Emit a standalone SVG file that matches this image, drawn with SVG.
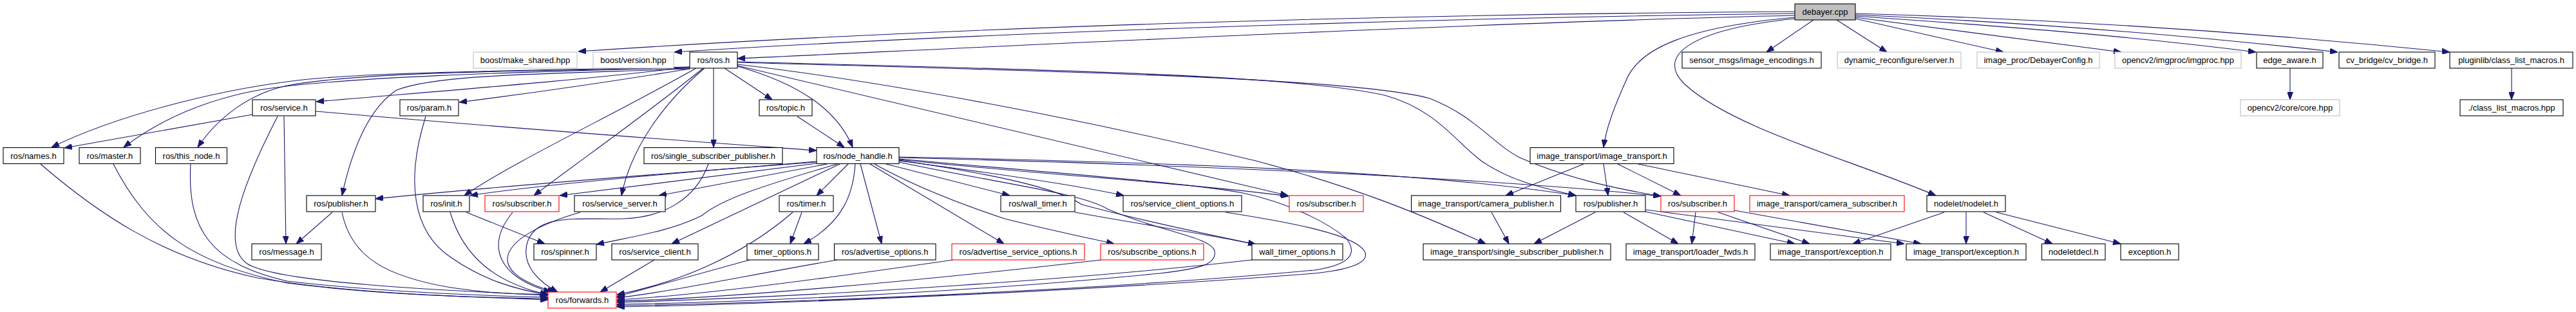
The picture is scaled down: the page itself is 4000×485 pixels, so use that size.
<svg xmlns="http://www.w3.org/2000/svg" width="4000" height="485" viewBox="0 0 4000 485">
<style>
.e path{fill:none;stroke:#191970;stroke-width:1.1;marker-end:url(#a)}
.n rect{fill:#fff;stroke:#000;stroke-width:1.1}
.n.g rect{stroke:#bfbfbf}
.n.r rect{stroke:#ff0000}
.n.f rect{fill:#bfbfbf}
.n text{font-family:"Liberation Sans",Arial,sans-serif;font-size:13px;text-anchor:middle;fill:#000}
</style>
<defs>
<marker id="a" viewBox="0 0 12 9" refX="12" refY="4.5" markerWidth="12" markerHeight="9" orient="auto" markerUnits="userSpaceOnUse"><path d="M0,0L12,4.5L0,9z" fill="#191970" stroke="#191970"/></marker>
</defs>
<rect width="4000" height="485" fill="#fff"/>
<g class="e" id="edges">
<path d="M2787,18 C2200,22 1500,40 898,80"/>
<path d="M2787,21 C2200,28 1500,52 1047,81"/>
<path d="M2787,24 C2300,35 1600,70 1145,91"/>
<path d="M2816,31 L2743,81"/>
<path d="M2852,31 L2930,81"/>
<path d="M2881,29 L3111,81"/>
<path d="M2881,27 L3294,81"/>
<path d="M2881,25 C3100,40 3300,55 3503,81"/>
<path d="M2881,23 C3150,35 3400,55 3630,81"/>
<path d="M2881,21 C3200,30 3500,50 3804,81"/>
<path d="M2787,27 C2620,42 2545,75 2525,125 C2505,170 2494,200 2490,229"/>
<path d="M2787,29 C2630,45 2570,85 2615,130 C2690,200 2880,250 3006,304"/>
<path d="M1071,104 C800,110 550,112 446,127 C330,142 180,180 80,229"/>
<path d="M1071,105 C800,112 520,120 402,140 C320,155 250,185 192,229"/>
<path d="M1071,106 C800,110 560,112 446,133 C390,145 340,180 307,229"/>
<path d="M1071,107 C850,115 680,115 616,140 C570,170 545,240 531,304"/>
<path d="M1071,104 C900,125 700,140 491,158"/>
<path d="M1071,107 C900,135 800,148 713,159"/>
<path d="M1081,106 C950,180 800,250 721,304"/>
<path d="M1092,106 C1000,180 900,250 829,304"/>
<path d="M1094,106 C1030,160 980,230 965,304"/>
<path d="M1108,106 L1108,229"/>
<path d="M1125,106 L1199,155"/>
<path d="M1145,103 C1240,130 1300,170 1324,229"/>
<path d="M1145,102 L2000,304"/>
<path d="M1145,100 C1400,130 1700,190 1950,250 C2100,290 2200,330 2307,379"/>
<path d="M1145,96 C1600,108 2000,115 2150,148 C2230,170 2260,220 2300,250 C2350,285 2410,295 2447,304"/>
<path d="M1145,97 C1600,110 2100,120 2220,153 C2290,180 2320,225 2360,245 C2440,280 2520,295 2579,305"/>
<path d="M392,178 L100,230"/>
<path d="M441,181 L444,379"/>
<path d="M490,173 C800,200 1050,218 1268,234"/>
<path d="M431,181 C380,280 340,380 384,410 C430,440 700,452 851,459"/>
<path d="M661,181 C630,280 640,360 700,400 C750,435 800,450 851,458"/>
<path d="M1238,181 L1311,229"/>
<path d="M63,255 C150,330 250,400 400,432 C550,458 750,462 851,466"/>
<path d="M176,255 C230,360 300,410 446,440 C600,460 760,463 851,464"/>
<path d="M296,255 C290,360 330,410 446,437 C600,455 760,460 851,462"/>
<path d="M1100,255 C1080,310 1030,338 968,340 C900,342 830,330 818,380 C810,415 840,440 866,454"/>
<path d="M1268,251 C1100,265 850,285 730,304"/>
<path d="M1268,252 C1000,272 750,292 583,309"/>
<path d="M1268,254 L869,304"/>
<path d="M1284,255 L1023,304"/>
<path d="M1300,255 C1180,290 1120,310 1090,335 C1040,360 980,368 926,380"/>
<path d="M1304,255 L1043,379"/>
<path d="M1317,255 L1268,304"/>
<path d="M1328,255 C1325,300 1310,345 1248,379"/>
<path d="M1336,255 L1369,379"/>
<path d="M1351,255 L1559,379"/>
<path d="M1358,255 C1420,290 1500,320 1560,340 C1640,360 1690,370 1730,379"/>
<path d="M1376,255 L1568,304"/>
<path d="M1396,250 C1550,270 1680,290 1745,304"/>
<path d="M1396,249 C1550,272 1640,292 1680,318 C1780,345 1880,365 1950,380"/>
<path d="M1396,248 C1600,270 1850,285 2001,305"/>
<path d="M1396,244 C1800,252 2200,265 2447,304"/>
<path d="M1396,245 C1800,255 2300,275 2579,305"/>
<path d="M1396,252 C1550,285 1680,300 1720,325 C1800,360 1880,368 1886,390 C1890,412 1860,418 1800,425 C1500,455 1150,470 958,473"/>
<path d="M1396,247 C1650,270 1850,285 1930,300 C2000,315 2060,345 2090,370 C2110,395 2095,412 2040,420 C1700,452 1200,472 958,475"/>
<path d="M1903,330 C2000,345 2110,365 2120,393 C2125,410 2090,420 2040,425 C1700,452 1200,473 958,477"/>
<path d="M516,330 L460,379"/>
<path d="M531,330 C545,400 600,430 700,447 C760,456 810,458 851,457"/>
<path d="M724,330 L846,379"/>
<path d="M699,330 C720,400 770,440 851,458"/>
<path d="M796,330 C755,380 770,430 856,454"/>
<path d="M901,330 C780,365 740,420 862,454"/>
<path d="M1016,404 L932,454"/>
<path d="M1231,330 C1150,400 1050,440 958,458"/>
<path d="M1245,330 L1227,379"/>
<path d="M1164,404 L958,461"/>
<path d="M1300,404 C1150,430 1050,452 958,463"/>
<path d="M1480,404 C1300,430 1100,458 958,466"/>
<path d="M1710,404 C1400,440 1100,465 958,468"/>
<path d="M1944,404 C1700,432 1300,460 958,470"/>
<path d="M1669,330 C1780,350 1880,365 1950,380"/>
<path d="M2459,255 L2338,304"/>
<path d="M2490,255 L2497,304"/>
<path d="M2512,255 L2610,304"/>
<path d="M2544,255 L2779,304"/>
<path d="M2316,330 L2343,379"/>
<path d="M2477,330 L2382,379"/>
<path d="M2521,330 L2606,379"/>
<path d="M2555,329 L2787,379"/>
<path d="M2555,326 L2957,379"/>
<path d="M2633,330 L2627,379"/>
<path d="M2668,330 L2810,379"/>
<path d="M2693,327 L2983,379"/>
<path d="M3019,330 L2877,379"/>
<path d="M3053,330 L3053,379"/>
<path d="M3080,330 L3187,379"/>
<path d="M3100,330 L3293,379"/>
<path d="M3556,106 L3556,155"/>
<path d="M3900,106 L3900,155"/>
</g>
<g class="n f" id="n1"><rect x="2787" y="6" width="94" height="25"/><text x="2834" y="23">debayer.cpp</text></g>
<g class="n g" id="n2"><rect x="735" y="81" width="161" height="25"/><text x="815.5" y="98">boost/make_shared.hpp</text></g>
<g class="n g" id="n3"><rect x="921" y="81" width="125" height="25"/><text x="983.5" y="98">boost/version.hpp</text></g>
<g class="n" id="n4"><rect x="1071" y="81" width="74" height="25"/><text x="1108" y="98">ros/ros.h</text></g>
<g class="n" id="n5"><rect x="2612" y="81" width="216" height="25"/><text x="2720" y="98">sensor_msgs/image_encodings.h</text></g>
<g class="n g" id="n6"><rect x="2853" y="81" width="192" height="25"/><text x="2949" y="98">dynamic_reconfigure/server.h</text></g>
<g class="n g" id="n7"><rect x="3070" y="81" width="190" height="25"/><text x="3165" y="98">image_proc/DebayerConfig.h</text></g>
<g class="n g" id="n8"><rect x="3284" y="81" width="196" height="25"/><text x="3382" y="98">opencv2/imgproc/imgproc.hpp</text></g>
<g class="n" id="n9"><rect x="3504" y="81" width="103" height="25"/><text x="3555.5" y="98">edge_aware.h</text></g>
<g class="n" id="n10"><rect x="3632" y="81" width="149" height="25"/><text x="3706.5" y="98">cv_bridge/cv_bridge.h</text></g>
<g class="n" id="n11"><rect x="3804" y="81" width="191" height="25"/><text x="3899.5" y="98">pluginlib/class_list_macros.h</text></g>
<g class="n" id="n12"><rect x="392" y="155" width="98" height="25"/><text x="441" y="172">ros/service.h</text></g>
<g class="n" id="n13"><rect x="621" y="155" width="91" height="25"/><text x="666.5" y="172">ros/param.h</text></g>
<g class="n" id="n14"><rect x="1179" y="155" width="82" height="25"/><text x="1220" y="172">ros/topic.h</text></g>
<g class="n g" id="n15"><rect x="3479" y="155" width="154" height="25"/><text x="3556" y="172">opencv2/core/core.hpp</text></g>
<g class="n" id="n16"><rect x="3820" y="155" width="160" height="25"/><text x="3900" y="172">./class_list_macros.hpp</text></g>
<g class="n" id="n17"><rect x="5" y="229.5" width="94" height="25"/><text x="52" y="246.5">ros/names.h</text></g>
<g class="n" id="n18"><rect x="123" y="229.5" width="95" height="25"/><text x="170.5" y="246.5">ros/master.h</text></g>
<g class="n" id="n19"><rect x="241.5" y="229.5" width="111" height="25"/><text x="297" y="246.5">ros/this_node.h</text></g>
<g class="n" id="n20"><rect x="1000" y="229.5" width="215" height="25"/><text x="1107.5" y="246.5">ros/single_subscriber_publisher.h</text></g>
<g class="n" id="n21"><rect x="1268" y="229.5" width="128" height="25"/><text x="1332" y="246.5">ros/node_handle.h</text></g>
<g class="n" id="n22"><rect x="2376" y="229.5" width="223" height="25"/><text x="2487.5" y="246.5">image_transport/image_transport.h</text></g>
<g class="n" id="n23"><rect x="476" y="304" width="107" height="25"/><text x="529.5" y="321">ros/publisher.h</text></g>
<g class="n" id="n24"><rect x="657" y="304" width="72" height="25"/><text x="693" y="321">ros/init.h</text></g>
<g class="n r" id="n25"><rect x="753" y="304" width="115" height="25"/><text x="810.5" y="321">ros/subscriber.h</text></g>
<g class="n" id="n26"><rect x="892" y="304" width="141" height="25"/><text x="962.5" y="321">ros/service_server.h</text></g>
<g class="n" id="n27"><rect x="1210" y="304" width="84" height="25"/><text x="1252" y="321">ros/timer.h</text></g>
<g class="n" id="n28"><rect x="1554" y="304" width="115" height="25"/><text x="1611.5" y="321">ros/wall_timer.h</text></g>
<g class="n" id="n29"><rect x="1744" y="304" width="184" height="25"/><text x="1836" y="321">ros/service_client_options.h</text></g>
<g class="n r" id="n30"><rect x="2002" y="304" width="115" height="25"/><text x="2059.5" y="321">ros/subscriber.h</text></g>
<g class="n" id="n31"><rect x="2191.5" y="304" width="232" height="25"/><text x="2307.5" y="321">image_transport/camera_publisher.h</text></g>
<g class="n" id="n32"><rect x="2447" y="304" width="108" height="25"/><text x="2501" y="321">ros/publisher.h</text></g>
<g class="n r" id="n33"><rect x="2579" y="304" width="114" height="25"/><text x="2636" y="321">ros/subscriber.h</text></g>
<g class="n r" id="n34"><rect x="2717" y="304" width="240" height="25"/><text x="2837" y="321">image_transport/camera_subscriber.h</text></g>
<g class="n" id="n35"><rect x="2992" y="304" width="122" height="25"/><text x="3053" y="321">nodelet/nodelet.h</text></g>
<g class="n" id="n36"><rect x="391" y="379" width="108" height="25"/><text x="445" y="396">ros/message.h</text></g>
<g class="n" id="n37"><rect x="829" y="379" width="97" height="25"/><text x="877.5" y="396">ros/spinner.h</text></g>
<g class="n" id="n38"><rect x="950" y="379" width="134" height="25"/><text x="1017" y="396">ros/service_client.h</text></g>
<g class="n" id="n39"><rect x="1160" y="379" width="111" height="25"/><text x="1215.5" y="396">timer_options.h</text></g>
<g class="n" id="n40"><rect x="1295.5" y="379" width="157.5" height="25"/><text x="1374.25" y="396">ros/advertise_options.h</text></g>
<g class="n r" id="n41"><rect x="1478" y="379" width="206" height="25"/><text x="1581" y="396">ros/advertise_service_options.h</text></g>
<g class="n r" id="n42"><rect x="1709" y="379" width="160" height="25"/><text x="1789" y="396">ros/subscribe_options.h</text></g>
<g class="n" id="n43"><rect x="1944" y="379" width="141" height="25"/><text x="2014.5" y="396">wall_timer_options.h</text></g>
<g class="n" id="n44"><rect x="2210" y="379" width="291" height="25"/><text x="2355.5" y="396">image_transport/single_subscriber_publisher.h</text></g>
<g class="n" id="n45"><rect x="2525" y="379" width="200" height="25"/><text x="2625" y="396">image_transport/loader_fwds.h</text></g>
<g class="n" id="n46"><rect x="2749" y="379" width="187" height="25"/><text x="2842.5" y="396">image_transport/exception.h</text></g>
<g class="n" id="n47"><rect x="2960" y="379" width="186" height="25"/><text x="3053" y="396">image_transport/exception.h</text></g>
<g class="n" id="n48"><rect x="3170.5" y="379" width="98.5" height="25"/><text x="3219.75" y="396">nodeletdecl.h</text></g>
<g class="n" id="n49"><rect x="3293" y="379" width="90" height="25"/><text x="3338" y="396">exception.h</text></g>
<g class="n r" id="n50"><rect x="851" y="454" width="106" height="25"/><text x="904" y="471">ros/forwards.h</text></g>
</svg>
